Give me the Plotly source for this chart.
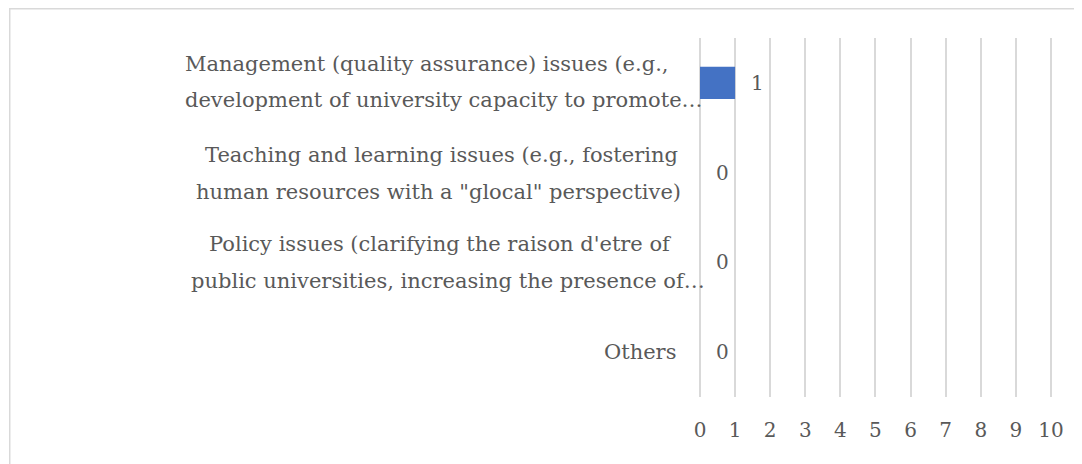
import plotly.graph_objects as go

categories = [
    "Management (quality assurance) issues (e.g., development of university capacity to promote…",
    "Teaching and learning issues (e.g., fostering human resources with a \"glocal\" perspective)",
    "Policy issues (clarifying the raison d'etre of public universities, increasing the presence of…",
    "Others",
]
label_lines = [
    ["Management (quality assurance) issues (e.g., ", "development of university capacity to promote…"],
    ["Teaching and learning issues (e.g., fostering", "human resources with a \"glocal\" perspective)"],
    ["Policy issues (clarifying the raison d'etre of", "public universities, increasing the presence of…"],
    ["Others"],
]
values = [1, 0, 0, 0]
tick_vals = list(range(0, 11))

FONT = "DejaVu Serif"
GREY = "#595959"
OFF = 8  # page body margin offset
W, H = 1082, 464
PX_L, PX_R, PX_T, PX_B = 700, 1052.5, 38, 397
L = PX_L - OFF
R = W - (PX_R - OFF)
T = PX_T - OFF
B = H - (PX_B - OFF)
PW = PX_R - PX_L
PH = PX_B - PX_T
X_MAX = 10.03

def px_x(p):
    return (p - PX_L) / PW

def px_y(p):
    return (PX_B - p) / PH

fig = go.Figure()
fig.add_trace(go.Bar(
    x=values, y=categories, orientation="h",
    marker=dict(color="#4472C4", line=dict(width=0)),
    width=0.36, hoverinfo="x+y",
))

annotations = []
for c, v in zip(categories, values):
    annotations.append(dict(
        x=v, y=c, xref="x", yref="y", text=str(v), showarrow=False,
        xanchor="left", yanchor="middle", xshift=14,
        font=dict(family=FONT, size=20, color=GREY),
    ))

line_centers = [[430, 444], [441, 438], [440, 448]]
line_offsets = [[-19, 17], [-18, 19], [-18, 19]]
for i, (c, lines) in enumerate(zip(categories, label_lines)):
    if len(lines) == 1:
        annotations.append(dict(
            x=px_x(678), y=c, xref="paper", yref="y", text=lines[0], showarrow=False,
            xanchor="right", yanchor="middle",
            font=dict(family=FONT, size=21, color=GREY),
        ))
    else:
        for j, ln in enumerate(lines):
            annotations.append(dict(
                x=px_x(line_centers[i][j]), y=c, xref="paper", yref="y", text=ln,
                showarrow=False, xanchor="center", yanchor="middle",
                yshift=-line_offsets[i][j],
                font=dict(family=FONT, size=21, color=GREY),
            ))

fig.update_layout(
    width=W, height=H,
    margin=dict(l=L, r=R, t=T, b=B, pad=0),
    paper_bgcolor="white", plot_bgcolor="white",
    showlegend=False,
    annotations=annotations,
    shapes=[dict(
        type="rect", xref="paper", yref="paper",
        x0=px_x(8.75), x1=px_x(1120), y0=px_y(500), y1=px_y(8.75),
        line=dict(color="#d9d9d9", width=1.5), fillcolor="rgba(0,0,0,0)", layer="below",
    )],
    xaxis=dict(
        range=[0, X_MAX], tickvals=tick_vals, ticktext=[str(t) for t in tick_vals],
        showgrid=True, gridcolor="#d9d9d9", gridwidth=1.8,
        zeroline=True, zerolinecolor="#d9d9d9", zerolinewidth=1.8,
        showline=False, ticks="", ticklabelstandoff=19,
        tickfont=dict(family=FONT, size=20, color=GREY),
        fixedrange=True,
    ),
    yaxis=dict(
        categoryorder="array", categoryarray=categories, autorange="reversed",
        showticklabels=False, showgrid=False, zeroline=False, ticks="",
        fixedrange=True,
    ),
)

fig.write_html("out.html")
